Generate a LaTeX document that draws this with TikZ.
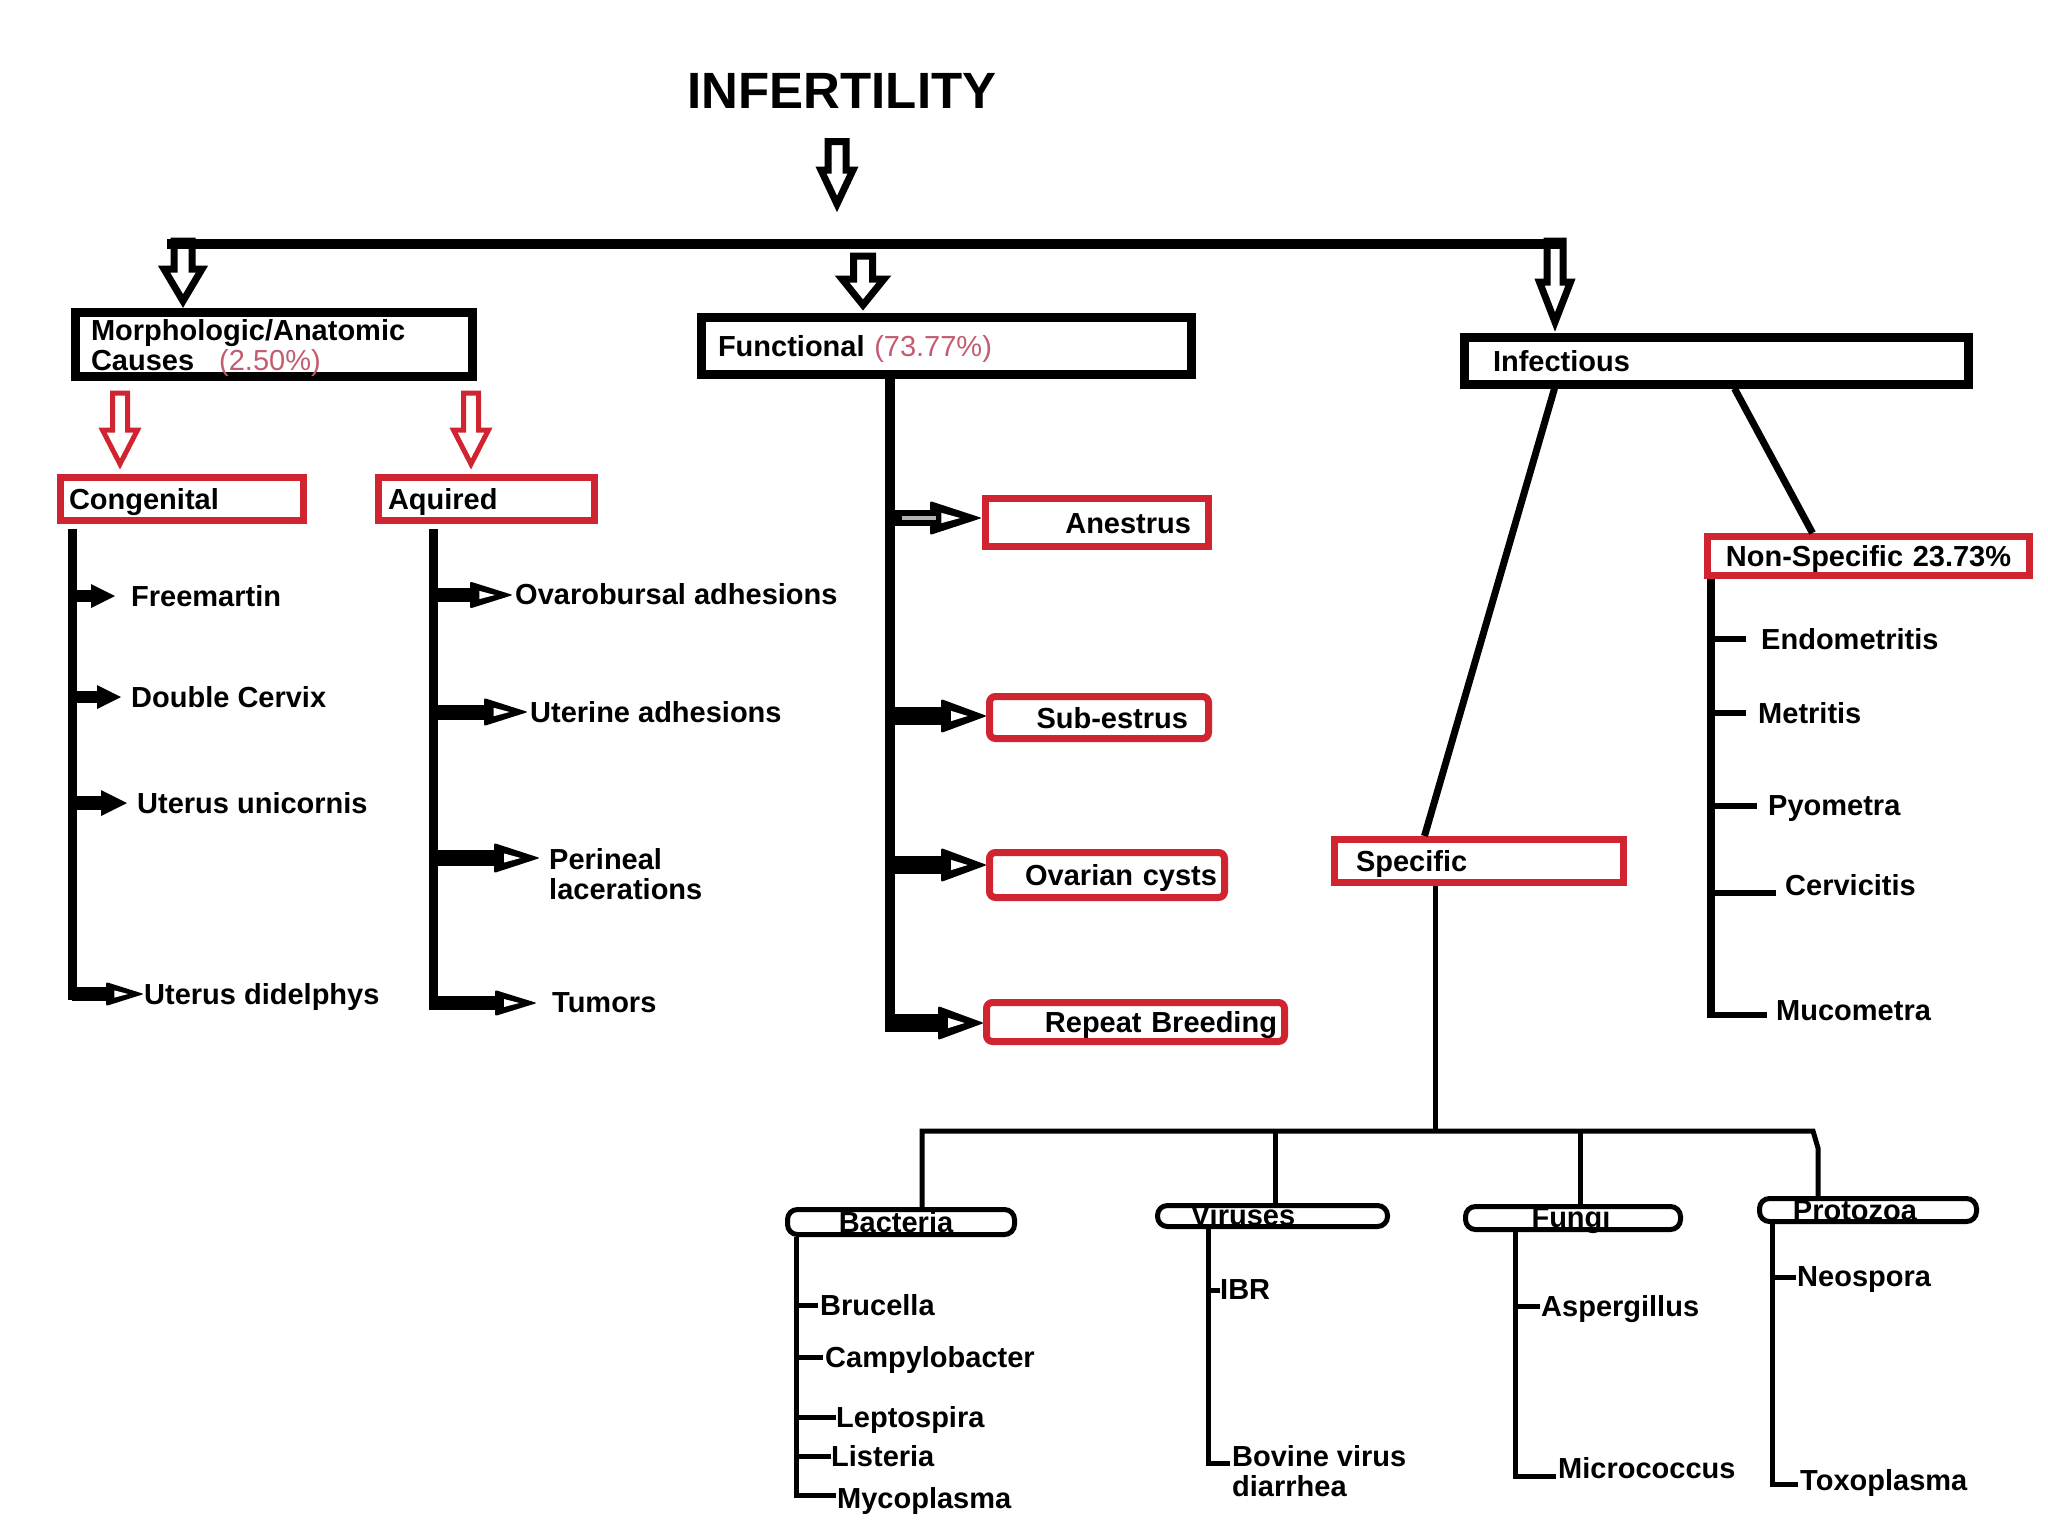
\documentclass[tikz,border=0pt]{standalone}
\usepackage{fontspec}
\setmainfont{Liberation Sans}
\usetikzlibrary{calc}
\definecolor{boxred}{RGB}{208,36,48}
\definecolor{pctcol}{RGB}{196,92,112}
\newcommand\dgfont{\bfseries\fontsize{29}{30}\selectfont}
% hollow downward arrow: #1 top, #2 tip, #3 half shaft, #4 half head, #5 head length, #6 colour, #7 line width
\newcommand\hollowdown[7]{%
  \filldraw[fill=white, draw=#6, line width=#7, line join=miter]
    let \p1=(#1), \p2=(#2) in
    ({\x1-#3},\y1) -- ({\x1+#3},\y1) -- ({\x1+#3},{\y2+#5}) -- ({\x1+#4},{\y2+#5})
    -- (\x1,\y2) -- ({\x1-#4},{\y2+#5}) -- ({\x1-#3},{\y2+#5}) -- cycle;}
% side arrow, black head with white notch: #1 spine coord, #2 target anchor, #3 dy, #4 gap, #5 head len, #6 half head, #7 shaft
\newcommand\openarrow[7]{%
  \draw[line width=#7] let \p1=(#1), \p2=(#2) in
    (\x1,{\y2-(#3)}) -- ({\x2-(#4)-(#5)+4pt},{\y2-(#3)});
  \fill[black, rounded corners=2pt] let \p1=(#1), \p2=(#2) in
    ({\x2-(#4)-(#5)},{\y2-(#3)+(#6)}) -- ({\x2-(#4)},{\y2-(#3)}) -- ({\x2-(#4)-(#5)},{\y2-(#3)-(#6)}) -- cycle;
  \fill[white] let \p1=(#1), \p2=(#2) in
    ({\x2-(#4)-0.78*(#5)},{\y2-(#3)+0.3*(#6)}) -- ({\x2-(#4)-0.42*(#5)},{\y2-(#3)}) -- ({\x2-(#4)-0.78*(#5)},{\y2-(#3)-0.3*(#6)}) -- cycle;}
% side arrow with solid head
\newcommand\solidarrow[7]{%
  \draw[line width=#7] let \p1=(#1), \p2=(#2) in
    (\x1,{\y2-(#3)}) -- ({\x2-(#4)-(#5)+2pt},{\y2-(#3)});
  \fill[black] let \p1=(#1), \p2=(#2) in
    ({\x2-(#4)-(#5)},{\y2-(#3)+(#6)}) -- ({\x2-(#4)},{\y2-(#3)}) -- ({\x2-(#4)-(#5)},{\y2-(#3)-(#6)}) -- cycle;}
% tick: #1 spine coord, #2 item node, #3 offset below item top, #4 gap, #5 line width
\newcommand\tick[5]{%
  \draw[line width=#5] let \p1=(#1), \p2=(#2.north west) in
    (\x1,{\y2-(#3)}) -- ({\x2-(#4)},{\y2-(#3)});}
\begin{document}
\begin{tikzpicture}[x=1pt,y=-1pt,
  blk/.style={draw=black, line width=9pt, inner sep=0pt, outer sep=0pt, font=\dgfont},
  redb/.style={draw=boxred, line width=7pt, inner sep=0pt, outer sep=0pt, font=\dgfont, text height=21pt, text depth=0pt},
  smallb/.style={draw=black, line width=5pt, rounded corners=10pt, inner sep=0pt, outer sep=0pt},
  smalltxt/.style={font=\dgfont, inner sep=0pt, text height=21pt, text depth=0pt},
  item/.style={font=\dgfont, inner sep=0pt, anchor=north west, align=left},
  spine/.style={line width=9pt},
  thinline/.style={line width=5pt}]
\fill[white] (0,0) rectangle (2048,1536);
\useasboundingbox (0,0) rectangle (2048,1536);

% ---------- title and main boxes ----------
\node[font=\bfseries\fontsize{51}{56}\selectfont, inner sep=0pt] (title) at (842,91) {INFERTILITY};

\node[blk, minimum height=64pt, text width=366pt, inner xsep=15.5pt, align=left] (morph) at (274,344.5)
  {\rule{0pt}{27pt}Morphologic/Anatomic\\Causes\hspace{25pt}{\mdseries\color{pctcol}(2.50\%)}};
\node[blk, text height=21pt, text depth=0pt, minimum height=57pt, text width=457pt, inner xsep=16.5pt, align=left] (func) at (946.5,346)
  {Functional {\mdseries\color{pctcol}(73.77\%)}};
\node[blk, text height=21pt, text depth=0pt, minimum height=47pt, text width=447pt, inner xsep=28.5pt, align=left] (infect) at (1716.5,361)
  {Infectious};

% ---------- red boxes ----------
\node[redb, minimum height=43pt, text width=226pt, inner xsep=8.5pt, align=left] (cong) at (182,499) {Congenital};
\node[redb, minimum height=43pt, text width=197pt, inner xsep=9.5pt, align=left] (aqui) at (486.5,499) {Aquired};
\node[redb, minimum height=48pt, text width=188pt, inner xsep=17.5pt, align=right] (anest) at (1097,522.5) {Anestrus};
\node[redb, rounded corners=6pt, minimum height=42pt, text width=178pt, inner xsep=20.5pt, align=right] (subes) at (1099,717.5) {Sub-estrus};
\node[redb, rounded corners=6pt, minimum height=45pt, text width=220pt, inner xsep=7.5pt, align=right] (ovar) at (1107,875) {Ovarian cysts};
\node[redb, rounded corners=6pt, minimum height=39pt, text width=283pt, inner xsep=7.5pt, align=right] (repb) at (1135.5,1022) {Repeat Breeding};
\node[redb, minimum height=43pt, text width=246pt, inner xsep=21.5pt, align=left] (spec) at (1479,861) {Specific};
\node[redb, minimum height=39pt, text width=312pt, inner xsep=5pt, align=center] (nonspec) at (1868.5,556) {Non-Specific 23.73\%};

% ---------- small boxes ----------
\node[smallb, minimum width=227pt, minimum height=25pt] (bact) at (901,1222) {};
\node[smallb, minimum width=230pt, minimum height=21pt] (vir) at (1272.5,1216) {};
\node[smallb, minimum width=215pt, minimum height=23pt] (fung) at (1573,1218) {};
\node[smallb, minimum width=217pt, minimum height=23pt] (prot) at (1868,1210) {};
\node[smalltxt] (bactL) at (896,1222) {Bacteria};
\node[smalltxt] (virL) at (1243,1215) {Viruses};
\node[smalltxt] (fungL) at (1571,1217) {Fungi};
\node[smalltxt] (protL) at (1855,1210) {Protozoa};

% ---------- list items ----------
\node[item] (i1) at (131,585.5) {Freemartin};
\node[item] (i2) at (131,686.5) {Double Cervix};
\node[item] (i3) at (137,792.5) {Uterus unicornis};
\node[item] (i4) at (144,983.5) {Uterus didelphys};

\node[item] (a1) at (515,583.5) {Ovarobursal adhesions};
\node[item] (a2) at (530,701.5) {Uterine adhesions};
\node[item] (a3) at (549,848.5) {Perineal\\lacerations};
\node[item] (a4) at (552,992.5) {Tumors};

\node[item] (n1) at (1761,628.5) {Endometritis};
\node[item] (n2) at (1758,702.5) {Metritis};
\node[item] (n3) at (1768,795.5) {Pyometra};
\node[item] (n4) at (1785,874.5) {Cervicitis};
\node[item] (n5) at (1776,1000.5) {Mucometra};

\node[item] (b1) at (820,1294.5) {Brucella};
\node[item] (b2) at (825,1346.5) {Campylobacter};
\node[item] (b3) at (836,1406.5) {Leptospira};
\node[item] (b4) at (831,1445.5) {Listeria};
\node[item] (b5) at (837,1487.5) {Mycoplasma};

\node[item] (v1) at (1220,1279.5) {IBR};
\node[item] (v2) at (1232,1445.5) {Bovine virus\\diarrhea};

\node[item] (f1) at (1541,1295.5) {Aspergillus};
\node[item] (f2) at (1558,1457.5) {Micrococcus};

\node[item] (p1) at (1797,1266.5) {Neospora};
\node[item] (p2) at (1800,1469.5) {Toxoplasma};

% ---------- top hollow arrows and bar ----------
\coordinate (t1) at ($(title.south)+(-5,33)$);
\coordinate (t2) at (837,204);
\hollowdown{t1}{t2}{9pt}{16pt}{34pt}{black}{7pt}
\coordinate (barL) at (167,244);
\coordinate (barR) at (1563,244);
\hollowdown{$(barL)+(16,-3)$}{$(morph.north west)+(107.5,-11.5)$}{9pt}{19pt}{32pt}{black}{7pt}
\hollowdown{$(func.north west)+(161.5,-61.5)$}{$(func.north west)+(161.5,-12.5)$}{9.5pt}{21pt}{26pt}{black}{7pt}
\hollowdown{$(barR)+(-8,-3)$}{$(infect.north west)+(90.5,-15.5)$}{8pt}{15.5pt}{40pt}{black}{7pt}
\draw[line width=10pt] (barL) -- (barR);

% red arrows
\hollowdown{$(morph.south west)+(44.5,16.5)$}{$(cong.north west)+(59.5,-13.5)$}{7.5pt}{17.5pt}{34pt}{boxred}{5pt}
\hollowdown{$(morph.south west)+(395.5,16.5)$}{$(aqui.north west)+(92.5,-13.5)$}{7.5pt}{17.5pt}{34pt}{boxred}{5pt}

% ---------- congenital list ----------
\coordinate (cgB) at (72,1000);
\draw[spine] ($(cgB |- cong.south)+(0,8)$) -- (cgB);
\solidarrow{cgB}{i1.north west}{10.5pt}{16pt}{24pt}{12pt}{12pt}
\solidarrow{cgB}{i2.north west}{10.5pt}{10pt}{24pt}{12pt}{12pt}
\solidarrow{cgB}{i3.north west}{10.5pt}{10pt}{26pt}{13pt}{14pt}
\openarrow{cgB}{i4.north west}{10.5pt}{0pt}{38pt}{12pt}{14pt}

% ---------- aquired list ----------
\coordinate (aqB) at (433,1010);
\draw[spine] ($(aqB |- aqui.south)+(0,8)$) -- (aqB);
\openarrow{aqB}{a1.north west}{11.5pt}{2pt}{43pt}{13.5pt}{14pt}
\openarrow{aqB}{a2.north west}{10.5pt}{2pt}{44pt}{14pt}{15pt}
\openarrow{aqB}{a3.north west}{9.5pt}{9pt}{46pt}{15pt}{16pt}
\openarrow{aqB}{a4.north west}{10.5pt}{15pt}{42pt}{13pt}{14pt}

% ---------- functional list ----------
\coordinate (fnB) at (890,1032);
\draw[line width=10pt] ($(fnB |- func.south)+(0,4.5)$) -- (fnB);
\openarrow{fnB}{anest.west}{-4.5pt}{3.5pt}{52pt}{17pt}{16pt}
\draw[gray!60, line width=4pt] ($(fnB |- anest.west)+(12,-4.5)$) -- ($(anest.west)+(-50,-4.5)$);
\openarrow{fnB}{subes.west}{-1.5pt}{2.5pt}{46pt}{17pt}{18pt}
\openarrow{fnB}{ovar.west}{-10pt}{2.5pt}{46pt}{17pt}{18pt}
\openarrow{fnB}{repb.west}{1pt}{2.5pt}{46pt}{17pt}{18pt}

% ---------- infectious branches ----------
\draw[line width=7pt] ($(infect.south west)+(90,4)$) -- ($(spec.north west)+(90,-3.5)$);
\draw[line width=7pt] ($(infect.south west)+(270,4)$) -- ($(nonspec.north west)+(105,-3.5)$);

% non-specific list
\coordinate (nsB) at (1711,1018);
\draw[line width=8pt] ($(nsB |- nonspec.south)+(0,3.5)$) -- (nsB);
\tick{nsB}{n1}{10.5pt}{15pt}{6pt}
\tick{nsB}{n2}{10.5pt}{12pt}{6pt}
\tick{nsB}{n3}{10.5pt}{11pt}{6pt}
\tick{nsB}{n4}{18.5pt}{9pt}{6pt}
\tick{nsB}{n5}{14.5pt}{9pt}{6pt}

% specific tree
\coordinate (jn) at (1435,1131);
\coordinate (bl) at (922,1131);
\coordinate (br) at (1813,1131);
\draw[thinline] ($(spec.south west)+(100.5,3.5)$) -- (jn);
\draw[thinline] ($(bact.north west)+(134.5,0)$) -- (bl) -- (br) -- ++(5,17) -- ($(prot.north west)+(58.5,0)$);
\draw[thinline] ($(vir.north)+(2.5,0)$) -- ++(0,-74.5);
\draw[thinline] ($(fung.north)+(7,0)$) -- ++(0,-75.5);

% bacteria list
\coordinate (bcB) at (796,1497.5);
\draw[thinline] ($(bcB |- bact.south)+(0,2.5)$) -- (bcB);
\tick{bcB}{b1}{10.5pt}{2pt}{5pt}
\tick{bcB}{b2}{10.5pt}{2pt}{5pt}
\tick{bcB}{b3}{10.5pt}{0pt}{5pt}
\tick{bcB}{b4}{10.5pt}{0pt}{5pt}
\tick{bcB}{b5}{7.5pt}{1pt}{5pt}

% viruses list
\coordinate (vrB) at (1208,1465.5);
\draw[thinline] ($(vrB |- vir.south)+(0,2.5)$) -- (vrB);
\tick{vrB}{v1}{10.5pt}{0pt}{5pt}
\tick{vrB}{v2}{17.5pt}{2pt}{5pt}

% fungi list
\coordinate (fgB) at (1515,1478.5);
\draw[thinline] ($(fgB |- fung.south)+(0,2.5)$) -- (fgB);
\tick{fgB}{f1}{10.5pt}{1pt}{5pt}
\tick{fgB}{f2}{18.5pt}{2pt}{5pt}

% protozoa list
\coordinate (ptB) at (1772,1486.5);
\draw[thinline] ($(ptB |- prot.south)+(0,2.5)$) -- (ptB);
\tick{ptB}{p1}{10.5pt}{1pt}{5pt}
\tick{ptB}{p2}{14.5pt}{2pt}{5pt}
\end{tikzpicture}
\end{document}
